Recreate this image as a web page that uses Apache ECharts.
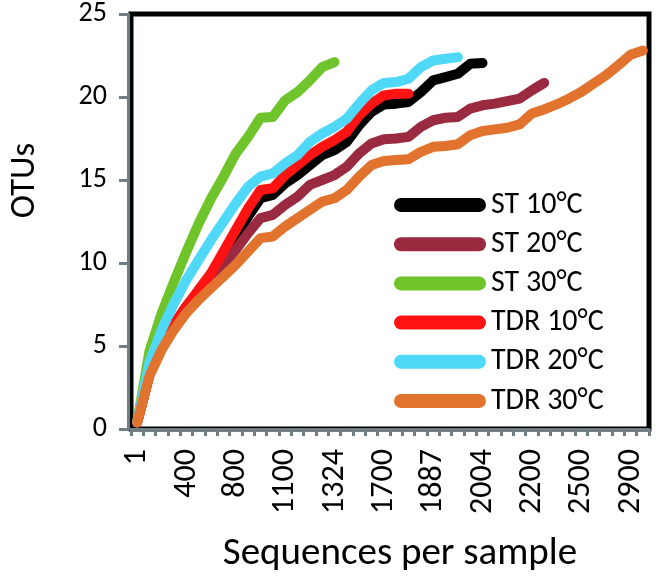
<!DOCTYPE html>
<html>
<head>
<meta charset="utf-8">
<script src="https://cdn.jsdelivr.net/npm/echarts@6/dist/echarts.min.js"></script>
<style>
html,body{margin:0;padding:0;background:#fff;}
#chart{width:656px;height:582px;}
</style>
</head>
<body>
<div id="chart"></div>
<script>
// Sequences per sample (category axis)
const categories = ['1','100','200','300','400','500','600','700','800','900','1000','1039','1100','1200','1300','1316','1324','1400','1500','1600','1700','1800','1814','1862','1887','1900','1994','2000','2004','2100','2113','2159','2200','2246','2300','2400','2500','2600','2700','2800','2900','2965'];
const yTicks = [0, 5, 10, 15, 20, 25];

const st10  = [0.4,3.3,5.0,6.3,7.4,8.3,9.2,10.4,11.6,12.8,13.9,14.1,14.8,15.3,15.9,16.5,16.8,17.3,18.3,19.1,19.55,19.6,19.7,20.3,21.0,21.2,21.4,22.0,22.05];
const st20  = [0.4,3.3,5.0,6.3,7.3,8.1,9.0,9.9,10.8,11.8,12.7,12.9,13.5,14.0,14.7,15.0,15.3,15.8,16.6,17.2,17.45,17.5,17.6,18.2,18.6,18.75,18.8,19.3,19.5,19.6,19.75,19.9,20.4,20.85];
const st30  = [0.4,4.7,7.0,8.9,10.7,12.4,13.9,15.2,16.6,17.6,18.75,18.8,19.8,20.3,21.0,21.8,22.1];
const tdr10 = [0.4,3.3,5.0,6.3,7.4,8.4,9.4,10.7,12.0,13.3,14.4,14.5,15.3,15.9,16.5,17.0,17.4,17.9,18.9,19.6,20.1,20.2,20.2];
const tdr20 = [0.4,4.0,6.0,7.6,9.0,10.2,11.4,12.5,13.6,14.6,15.2,15.4,16.0,16.5,17.3,17.8,18.2,18.7,19.6,20.4,20.85,20.9,21.1,21.8,22.2,22.3,22.4];
const tdr30 = [0.4,3.2,4.8,6.0,7.0,7.8,8.5,9.2,9.9,10.7,11.5,11.6,12.2,12.7,13.2,13.7,13.9,14.4,15.2,15.9,16.15,16.2,16.25,16.7,17.0,17.05,17.15,17.7,17.95,18.05,18.15,18.35,19.0,19.25,19.55,19.9,20.3,20.8,21.3,21.9,22.55,22.8];

const seriesNames = ['ST 10°C','ST 20°C','ST 30°C','TDR 10°C','TDR 20°C','TDR 30°C'];
const seriesData = [st10, st20, st30, tdr10, tdr20, tdr30];
const colors = ['#000000','#9a2a40','#6fc42c','#ff1212','#50d8f8','#e1732f'];

const FONT = 'Carlito, Lato, sans-serif';
const capsule = 'path://M7,0 H85 A7,7 0 0 1 85,14 H7 A7,7 0 0 1 7,0 Z';

const chart = echarts.init(document.getElementById('chart'), null, {renderer: 'canvas'});
chart.setOption({
  animation: false,
  backgroundColor: '#ffffff',
  grid: {left: 115, right: 7, top: 14, bottom: 153, show: true, borderColor: '#000', borderWidth: 5, backgroundColor: 'transparent'},
  legend: {
    orient: 'vertical', left: 389, top: 185,
    itemWidth: 92, itemHeight: 14, itemGap: 9.2,
    icon: capsule,
    textStyle: {fontFamily: FONT, fontSize: 30, color: '#000', lineHeight: 30, padding: [0,0,0,0]},
    data: seriesNames
  },
  xAxis: {
    type: 'category', data: categories, boundaryGap: true, offset: 2,
    name: 'Sequences per sample', nameLocation: 'middle', nameGap: 104,
    nameTextStyle: {fontFamily: FONT, fontSize: 39, color: '#000', padding: [0,0,0,20]},
    axisLine: {show: true, lineStyle: {color: '#6f7d84', width: 3}},
    axisTick: {show: true, interval: 0, length: 7, lineStyle: {color: '#6f7d84', width: 3}},
    axisLabel: {interval: 3, rotate: 90, margin: 18, fontFamily: FONT, fontSize: 32, color: '#000'},
    splitLine: {show: false}
  },
  yAxis: {
    type: 'value', min: yTicks[0], max: yTicks[yTicks.length-1], interval: 5, offset: 3,
    name: 'OTUs', nameLocation: 'middle', nameGap: 85,
    nameTextStyle: {fontFamily: FONT, fontSize: 35, color: '#000', padding: [0,0,0,82]},
    axisLine: {show: true, lineStyle: {color: '#6f7d84', width: 3}},
    axisTick: {show: true, length: 9, lineStyle: {color: '#6f7d84', width: 3}},
    axisLabel: {margin: 21, fontFamily: FONT, fontSize: 28, color: '#000'},
    splitLine: {show: false}
  },
  series: seriesNames.map((n, i) => ({
    name: n, type: 'line', data: seriesData[i],
    showSymbol: false, symbol: 'none', smooth: false,
    color: colors[i],
    lineStyle: {color: colors[i], width: 10, cap: 'round', join: 'round'},
    itemStyle: {color: colors[i]}
  }))
});
</script>
</body>
</html>
